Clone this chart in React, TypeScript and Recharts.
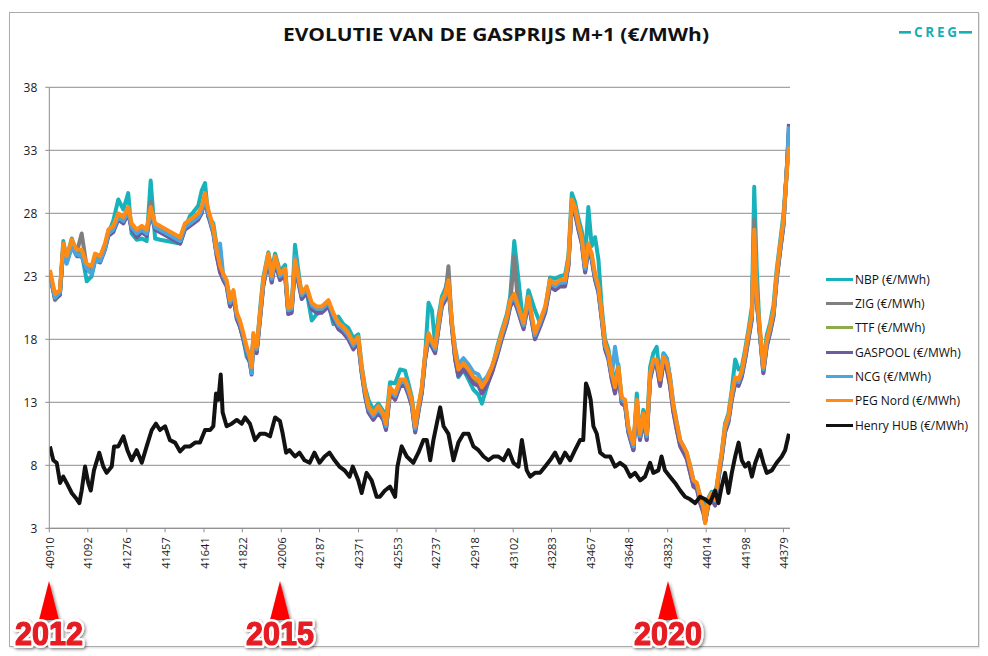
import React from 'react';
import { LineChart, Line, XAxis, YAxis, CartesianGrid } from 'recharts';

// Excel date serials (x)
const euDates = [
  40913, 40937, 40960, 40976, 40992, 41016, 41040, 41063, 41087, 41110,
  41126, 41150, 41173, 41189, 41212, 41236, 41260, 41283, 41299, 41323,
  41347, 41370, 41389, 41410, 41433, 41465, 41496, 41528, 41551, 41575,
  41591, 41614, 41630, 41646, 41661, 41685, 41701, 41717, 41732, 41748,
  41764, 41780, 41796, 41811, 41827, 41843, 41858, 41866, 41874, 41890,
  41906, 41921, 41945, 41961, 41977, 42000, 42024, 42039, 42055, 42071,
  42087, 42103, 42126, 42150, 42174, 42197, 42229, 42252, 42276, 42299,
  42323, 42347, 42370, 42386, 42402, 42418, 42441, 42465, 42488, 42501,
  42520, 42544, 42568, 42591, 42607, 42623, 42639, 42654, 42670, 42686,
  42702, 42718, 42733, 42749, 42765, 42781, 42796, 42812, 42828, 42843,
  42867, 42891, 42914, 42938, 42954, 42977, 43001, 43025, 43048, 43072,
  43088, 43107, 43127, 43151, 43174, 43205, 43229, 43253, 43276, 43300,
  43323, 43347, 43363, 43379, 43394, 43410, 43426, 43442, 43457, 43473,
  43489, 43505, 43520, 43536, 43552, 43568, 43583, 43599, 43615, 43631,
  43646, 43670, 43686, 43701, 43717, 43733, 43749, 43764, 43780, 43796,
  43812, 43828, 43843, 43859, 43875, 43891, 43907, 43922, 43938, 43954,
  43970, 43985, 44001, 44009, 44024, 44040, 44056, 44072, 44087, 44103,
  44119, 44135, 44151, 44167, 44182, 44198, 44214, 44230, 44241, 44253,
  44268, 44284, 44300, 44316, 44332, 44347, 44363, 44379, 44395, 44405,
];

const nbp = [
  23.2, 21.4, 21.6, 25.8, 24.4, 26.0, 24.8, 24.9, 22.6, 23.0,
  24.2, 24.2, 25.4, 26.4, 27.4, 29.1, 28.3, 29.6, 26.4, 25.9,
  26.0, 25.8, 30.6, 26.0, 25.9, 25.8, 25.7, 25.6, 26.8, 27.8,
  28.1, 28.6, 29.8, 30.4, 27.7, 27.2, 25.4, 24.2, 23.0, 22.4,
  21.4, 21.5, 19.8, 19.0, 18.0, 16.6, 16.2, 15.4, 18.2, 17.2,
  20.4, 22.9, 24.9, 23.5, 24.8, 23.4, 23.9, 20.2, 20.4, 25.5,
  23.4, 21.5, 21.8, 19.5, 20.0, 20.2, 20.9, 19.2, 19.8, 19.2,
  18.9, 18.1, 18.4, 15.9, 14.2, 13.2, 12.4, 12.9, 12.3, 11.5,
  14.6, 14.5, 15.6, 15.5, 14.5, 13.4, 11.3, 12.6, 14.0, 16.8,
  20.9, 20.3, 17.6, 19.8, 21.4, 22.0, 23.0, 19.3, 16.4, 15.0,
  15.6, 14.8, 14.0, 13.6, 12.9, 14.2, 15.6, 17.3, 18.7, 20.0,
  21.4, 25.8, 22.7, 19.0, 21.9, 20.3, 19.3, 20.3, 22.9, 22.8,
  23.0, 23.1, 24.6, 29.6, 28.9, 27.6, 26.6, 24.4, 28.5, 25.4,
  26.1, 24.3, 20.6, 18.0, 17.2, 15.6, 14.6, 16.0, 13.0, 12.8,
  10.8, 9.2, 13.7, 10.3, 12.4, 10.8, 15.8, 16.9, 17.4, 15.0,
  16.9, 16.5, 15.0, 12.6, 11.2, 9.8, 9.3, 8.8, 7.8, 6.7,
  6.5, 5.6, 5.0, 4.2, 5.4, 5.9, 5.6, 7.2, 8.9, 11.3,
  12.1, 14.0, 16.4, 15.6, 15.8, 17.2, 18.8, 20.6, 30.1, 23.5,
  18.2, 16.2, 18.3, 19.3, 20.7, 23.5, 25.7, 27.9, 31.5, 33.8,
];

const zig = [
  23.3, 21.3, 21.7, 25.3, 24.3, 25.6, 24.9, 26.4, 23.7, 23.5,
  24.5, 24.3, 25.3, 26.4, 26.8, 27.6, 27.4, 28.1, 26.9, 26.3,
  26.7, 26.4, 28.9, 26.9, 26.7, 26.4, 26.1, 25.9, 26.9, 27.2,
  27.4, 27.7, 28.2, 29.4, 28.0, 26.6, 24.8, 23.6, 22.9, 22.4,
  20.8, 21.6, 19.8, 19.2, 18.2, 17.1, 16.3, 15.6, 18.2, 17.1,
  19.8, 22.4, 24.5, 22.7, 24.3, 22.9, 23.3, 20.2, 20.3, 24.0,
  22.7, 21.4, 21.9, 20.6, 20.3, 20.3, 20.8, 19.8, 19.0, 18.7,
  18.2, 17.4, 17.9, 15.5, 13.7, 12.4, 11.8, 12.4, 11.8, 11.0,
  13.9, 13.4, 14.5, 14.5, 13.8, 12.9, 10.8, 12.4, 13.9, 16.6,
  18.2, 17.6, 17.1, 19.0, 20.8, 21.3, 23.8, 19.2, 16.6, 15.3,
  15.8, 15.3, 14.7, 14.5, 13.9, 14.5, 15.5, 16.8, 18.2, 19.5,
  20.8, 24.6, 20.3, 19.0, 21.1, 18.2, 19.2, 20.3, 22.4, 22.1,
  22.4, 22.4, 24.0, 28.8, 28.2, 26.9, 25.8, 23.5, 25.3, 24.5,
  22.9, 21.9, 19.8, 17.4, 16.6, 15.0, 13.9, 15.5, 13.1, 12.9,
  10.8, 9.4, 12.9, 10.2, 11.8, 10.2, 15.0, 16.1, 16.1, 14.5,
  16.3, 15.8, 14.5, 12.4, 11.0, 9.7, 9.2, 8.7, 7.6, 6.5,
  6.3, 5.2, 4.4, 3.6, 5.0, 5.5, 5.0, 7.1, 8.7, 10.8,
  11.6, 13.4, 14.7, 14.5, 15.2, 16.6, 18.2, 19.8, 27.5, 21.1,
  18.5, 15.5, 17.6, 18.7, 20.0, 22.9, 25.1, 27.2, 31.5, 34.2,
];

const ttf = [
  23.2, 21.1, 21.6, 25.2, 24.2, 25.5, 24.7, 24.7, 23.6, 23.4,
  24.4, 24.2, 25.2, 26.3, 26.6, 27.6, 27.3, 28.1, 26.8, 26.2,
  26.6, 26.3, 28.1, 26.8, 26.6, 26.3, 26.0, 25.7, 26.8, 27.1,
  27.3, 27.6, 28.1, 29.2, 27.9, 26.5, 24.7, 23.4, 22.8, 22.3,
  20.6, 21.5, 19.7, 19.1, 18.1, 17.0, 16.2, 15.4, 18.1, 17.0,
  19.7, 22.3, 24.4, 22.6, 24.2, 22.8, 23.2, 20.1, 20.2, 23.9,
  22.6, 21.3, 21.8, 20.5, 20.2, 20.2, 20.7, 19.7, 18.9, 18.6,
  18.1, 17.3, 17.8, 15.4, 13.6, 12.3, 11.7, 12.3, 11.7, 10.9,
  13.8, 13.3, 14.4, 14.4, 13.7, 12.8, 10.7, 12.3, 13.8, 16.5,
  18.1, 17.5, 17.0, 18.9, 20.7, 21.2, 22.3, 19.1, 16.5, 15.2,
  15.7, 15.2, 14.6, 14.4, 13.8, 14.4, 15.4, 16.7, 18.1, 19.4,
  20.7, 21.2, 20.2, 18.9, 21.0, 18.1, 19.1, 20.2, 22.3, 22.0,
  22.3, 22.3, 23.9, 28.7, 28.1, 26.8, 25.7, 23.4, 25.2, 24.4,
  22.8, 21.8, 19.7, 17.3, 16.5, 14.9, 13.8, 15.4, 13.0, 12.8,
  10.7, 9.3, 12.8, 10.1, 11.7, 10.1, 14.9, 16.0, 16.0, 14.4,
  16.2, 15.7, 14.4, 12.3, 10.9, 9.6, 9.1, 8.6, 7.5, 6.4,
  6.2, 5.1, 4.3, 3.5, 4.9, 5.4, 4.9, 7.0, 8.6, 10.7,
  11.5, 13.3, 14.6, 14.4, 15.1, 16.5, 18.1, 19.7, 26.3, 21.0,
  18.4, 15.4, 17.5, 18.6, 19.9, 22.8, 25.0, 27.1, 31.4, 34.5,
];

const gaspool = [
  23.1, 21.2, 21.5, 25.1, 24.1, 25.4, 24.6, 24.6, 23.5, 23.3,
  24.3, 24.1, 25.1, 26.2, 26.5, 27.5, 27.2, 28.0, 26.7, 26.1,
  26.5, 26.2, 28.0, 26.7, 26.5, 26.2, 25.9, 25.6, 26.7, 27.0,
  27.2, 27.5, 28.0, 29.1, 27.8, 26.4, 24.6, 23.3, 22.7, 22.2,
  20.6, 21.4, 19.6, 19.0, 18.0, 16.9, 16.1, 15.2, 18.0, 16.9,
  19.6, 22.2, 24.3, 22.5, 24.1, 22.7, 23.1, 20.0, 20.1, 23.8,
  22.5, 21.2, 21.7, 20.4, 20.1, 20.1, 20.6, 19.6, 18.8, 18.5,
  18.0, 17.2, 17.7, 15.3, 13.5, 12.2, 11.6, 12.2, 11.6, 10.8,
  13.7, 13.2, 14.3, 14.3, 13.6, 12.7, 10.6, 12.2, 13.7, 16.4,
  18.0, 17.4, 16.9, 18.8, 20.6, 21.1, 22.2, 19.0, 16.4, 15.1,
  15.6, 15.1, 14.5, 14.3, 13.7, 14.3, 15.3, 16.6, 18.0, 19.3,
  20.6, 21.1, 20.1, 18.8, 20.9, 18.0, 19.0, 20.1, 22.2, 21.9,
  22.2, 22.2, 23.8, 28.6, 28.0, 26.7, 25.6, 23.3, 25.1, 24.3,
  22.7, 21.7, 19.6, 17.2, 16.4, 14.8, 13.7, 15.3, 12.9, 12.7,
  10.6, 9.2, 12.7, 10.0, 11.6, 10.0, 14.8, 15.9, 15.9, 14.3,
  16.1, 15.6, 14.3, 12.2, 10.8, 9.5, 9.0, 8.5, 7.4, 6.3,
  6.1, 5.0, 4.2, 3.5, 4.8, 5.3, 4.8, 6.9, 8.5, 10.6,
  11.4, 13.2, 14.5, 14.3, 15.0, 16.4, 18.0, 19.6, 26.2, 20.9,
  18.3, 15.3, 17.4, 18.5, 19.8, 22.7, 24.9, 27.0, 31.6, 35.1,
];

const ncg = [
  23.2, 21.3, 21.7, 25.2, 24.0, 25.3, 24.7, 24.6, 23.6, 23.2,
  24.3, 24.2, 25.2, 26.4, 26.7, 27.7, 27.4, 28.2, 26.9, 26.4,
  26.7, 26.4, 28.2, 26.9, 26.7, 26.4, 26.1, 25.8, 26.9, 27.2,
  27.4, 27.7, 28.2, 29.3, 28.0, 26.6, 24.8, 25.6, 23.0, 22.5,
  20.9, 21.7, 19.9, 19.3, 18.3, 17.1, 16.4, 15.3, 18.3, 17.2,
  19.9, 22.5, 24.6, 22.8, 24.4, 23.0, 23.4, 20.3, 20.4, 24.6,
  22.8, 21.5, 22.0, 20.7, 20.4, 20.4, 20.9, 19.9, 19.1, 18.8,
  18.3, 17.5, 18.0, 15.6, 13.8, 12.5, 11.9, 12.5, 11.9, 11.1,
  14.0, 13.5, 14.6, 14.6, 13.9, 13.0, 10.9, 12.5, 14.0, 16.7,
  18.3, 17.7, 17.2, 19.1, 20.9, 21.4, 22.5, 19.3, 17.3, 16.0,
  16.5, 16.0, 15.4, 15.2, 14.6, 15.0, 15.8, 16.9, 18.3, 19.6,
  20.9, 21.4, 20.4, 19.1, 21.2, 18.3, 19.3, 20.4, 22.5, 22.2,
  22.5, 22.5, 24.1, 28.9, 28.3, 27.0, 25.9, 23.6, 25.4, 24.6,
  23.0, 22.0, 19.9, 17.5, 16.7, 15.1, 17.4, 15.6, 13.2, 13.0,
  10.9, 9.5, 13.0, 10.3, 11.9, 10.3, 15.1, 16.2, 16.2, 14.9,
  16.8, 16.4, 15.0, 12.9, 11.4, 10.0, 9.5, 9.0, 8.0, 6.8,
  6.5, 5.4, 4.6, 3.6, 5.1, 5.6, 5.2, 7.2, 8.8, 10.9,
  11.7, 13.5, 14.8, 14.6, 15.3, 16.7, 18.3, 19.9, 26.5, 21.2,
  18.6, 15.6, 17.7, 18.8, 20.1, 23.0, 25.2, 27.3, 31.5, 34.9,
];

const pegNord = [
  23.5, 21.6, 21.9, 25.6, 24.6, 25.9, 25.1, 25.1, 24.0, 23.8,
  24.8, 24.6, 25.6, 26.7, 27.0, 28.0, 27.7, 28.5, 27.2, 26.7,
  27.0, 26.7, 28.5, 27.2, 27.0, 26.7, 26.4, 26.1, 27.2, 27.5,
  27.7, 28.0, 28.5, 29.6, 28.3, 26.9, 25.1, 23.8, 23.2, 22.7,
  21.1, 21.9, 20.1, 19.5, 18.5, 17.4, 16.6, 15.8, 18.5, 17.4,
  20.1, 22.7, 24.8, 23.0, 24.6, 23.2, 23.6, 20.5, 20.6, 24.3,
  23.0, 21.7, 22.2, 20.9, 20.6, 20.6, 21.1, 20.1, 19.3, 19.0,
  18.5, 17.7, 18.2, 15.8, 14.0, 12.7, 12.1, 12.7, 12.1, 11.3,
  14.2, 13.7, 14.8, 14.8, 14.1, 13.2, 11.1, 12.7, 14.2, 16.9,
  18.5, 17.9, 17.4, 19.3, 21.1, 21.6, 22.7, 19.5, 16.9, 15.6,
  16.1, 15.6, 15.0, 14.8, 14.2, 14.8, 15.8, 17.1, 18.5, 19.8,
  21.1, 21.6, 20.6, 19.3, 21.4, 18.5, 19.5, 20.6, 22.7, 22.4,
  22.7, 22.7, 24.3, 29.1, 28.5, 27.2, 26.1, 23.8, 25.6, 24.8,
  23.2, 22.2, 20.1, 17.7, 16.9, 15.3, 14.2, 15.8, 13.4, 13.2,
  11.1, 9.7, 13.2, 10.5, 12.1, 10.5, 15.3, 16.4, 16.4, 14.8,
  16.6, 16.1, 14.8, 12.7, 11.3, 10.0, 9.5, 9.0, 7.9, 6.8,
  6.6, 5.5, 4.7, 3.4, 5.3, 5.8, 5.3, 7.4, 9.0, 11.1,
  11.9, 13.7, 15.0, 14.8, 15.5, 16.9, 18.5, 20.1, 26.7, 21.4,
  18.8, 15.8, 17.9, 19.0, 20.3, 23.2, 25.4, 27.5, 31.2, 33.3,
];

const hhDates = [
  40913, 40929, 40945, 40961, 40976, 40992, 41016, 41040, 41052, 41063,
  41079, 41094, 41106, 41121, 41146, 41165, 41181, 41205, 41216, 41236,
  41260, 41279, 41299, 41323, 41347, 41370, 41394, 41414, 41433, 41457,
  41480, 41504, 41528, 41551, 41575, 41599, 41622, 41646, 41670, 41685,
  41698, 41709, 41720, 41729, 41748, 41772, 41796, 41819, 41835, 41858,
  41882, 41906, 41930, 41953, 41977, 42000, 42013, 42029, 42045, 42071,
  42092, 42116, 42140, 42163, 42187, 42211, 42234, 42258, 42281, 42305,
  42329, 42344, 42370, 42386, 42409, 42433, 42457, 42472, 42496, 42520,
  42544, 42555, 42575, 42599, 42630, 42654, 42678, 42694, 42710, 42725,
  42741, 42757, 42773, 42796, 42820, 42843, 42867, 42891, 42914, 42938,
  42962, 42985, 43009, 43032, 43056, 43080, 43103, 43127, 43143, 43166,
  43182, 43205, 43229, 43253, 43276, 43300, 43323, 43347, 43371, 43394,
  43418, 43433, 43446, 43457, 43468, 43481, 43497, 43513, 43536, 43560,
  43583, 43607, 43631, 43655, 43678, 43702, 43725, 43749, 43764, 43788,
  43803, 43819, 43843, 43867, 43891, 43914, 43938, 43962, 43985, 44009,
  44032, 44056, 44072, 44087, 44103, 44119, 44135, 44151, 44167, 44182,
  44198, 44214, 44230, 44246, 44268, 44284, 44300, 44324, 44347, 44371,
  44387, 44405,
];

const henryHub = [
  9.5, 8.4, 8.2, 6.6, 7.1, 6.6, 5.8, 5.3, 5.0, 6.0,
  7.9, 6.6, 6.0, 7.6, 9.0, 7.9, 7.4, 7.9, 9.5, 9.5,
  10.3, 9.2, 8.4, 9.2, 8.2, 9.5, 10.8, 11.3, 10.8, 11.1,
  10.0, 9.8, 9.1, 9.5, 9.5, 9.8, 9.8, 10.8, 10.8, 11.1,
  13.7, 13.2, 15.2, 12.2, 11.1, 11.3, 11.6, 11.3, 11.8, 11.3,
  10.0, 10.5, 10.5, 10.3, 11.8, 11.5, 10.5, 9.0, 9.2, 8.7,
  9.0, 8.4, 8.2, 9.0, 8.2, 8.7, 9.0, 8.4, 7.9, 7.6,
  7.1, 7.9, 6.8, 5.8, 7.4, 6.8, 5.5, 5.5, 6.0, 6.3,
  5.5, 7.9, 9.5, 8.7, 8.2, 9.0, 10.0, 10.0, 8.4, 10.0,
  11.3, 12.6, 11.1, 10.5, 8.4, 9.8, 10.5, 10.5, 9.5, 9.2,
  8.7, 8.4, 8.7, 8.7, 8.4, 9.2, 8.2, 7.9, 10.0, 7.6,
  7.1, 7.4, 7.4, 7.9, 8.4, 9.0, 8.2, 9.0, 8.4, 9.2,
  10.0, 10.0, 14.5, 14.0, 13.2, 11.1, 10.5, 9.0, 8.7, 8.7,
  7.9, 8.2, 7.9, 7.1, 7.4, 6.8, 7.1, 8.2, 7.4, 7.6,
  8.7, 7.6, 7.1, 6.6, 6.0, 5.5, 5.3, 5.0, 5.5, 5.3,
  5.0, 6.0, 5.0, 6.3, 7.4, 5.8, 7.4, 8.7, 9.8, 8.4,
  7.9, 8.2, 7.1, 8.2, 9.2, 8.2, 7.4, 7.6, 8.2, 8.7,
  9.2, 10.5,
];

const xTicks = [
  40910, 41092, 41276, 41457, 41641, 41822, 42006, 42187, 42371, 42553,
  42737, 42918, 43102, 43283, 43467, 43648, 43832, 44014, 44198, 44379,
];
const yTicks = [3, 8, 13, 18, 23, 28, 33, 38];

const yearMarks = [
  { label: '2012', x: 41 },
  { label: '2015', x: 272 },
  { label: '2020', x: 660 },
];

const series = [
  { name: 'NBP (€/MWh)', color: '#17b2bc', dates: euDates, values: nbp },
  { name: 'ZIG (€/MWh)', color: '#7f7f7f', dates: euDates, values: zig },
  { name: 'TTF (€/MWh)', color: '#8daa4c', dates: euDates, values: ttf },
  { name: 'GASPOOL (€/MWh)', color: '#705a9c', dates: euDates, values: gaspool },
  { name: 'NCG (€/MWh)', color: '#4aa6df', dates: euDates, values: ncg },
  { name: 'PEG Nord (€/MWh)', color: '#ff8a14', dates: euDates, values: pegNord },
  { name: 'Henry HUB (€/MWh)', color: '#121212', dates: hhDates, values: henryHub },
];

const font = "'Open Sans', 'DejaVu Sans', sans-serif";

const XTick = (props: any) => {
  const { x, y, payload } = props;
  return (
    <text
      transform={`translate(${x},${y + 5}) rotate(-90)`}
      textAnchor="end"
      dominantBaseline="central"
      fontSize={11}
      fontFamily={font}
      fill="#1a1a1a"
    >
      {payload.value}
    </text>
  );
};

const YTick = (props: any) => {
  const { x, y, payload } = props;
  return (
    <text x={x} y={y} dy="0.36em" textAnchor="end" fontSize={12} fontFamily={font} fill="#1a1a1a">
      {payload.value}
    </text>
  );
};

export default function App() {
  return (
    <div style={{ position: 'relative', width: 980, height: 648, background: '#fff', fontFamily: font }}>
      <div
        style={{
          position: 'absolute', left: 1, top: 4, width: 968, height: 633,
          border: '1px solid #ababab', boxShadow: '1px 1px 2px rgba(0,0,0,0.15)',
        }}
      />

      <svg width={980} height={60} style={{ position: 'absolute', left: 0, top: 0 }}>
        <text
          x={488} y={33} textAnchor="middle" fontSize={17} fontWeight={700}
          fontFamily={font} fill="#111" textLength={426} lengthAdjust="spacingAndGlyphs"
        >
          EVOLUTIE VAN DE GASPRIJS M+1 (€/MWh)
        </text>
        <rect x={891} y={23} width={12} height={2.6} fill="#17aeb6" />
        <text
          x={906} y={29} fontSize={13.5} fontWeight={700} fill="#17aeb6" fontFamily={font}
          textLength={43} lengthAdjust="spacing"
        >
          CREG
        </text>
        <rect x={951} y={23} width={13} height={2.6} fill="#17aeb6" />
      </svg>

      <div style={{ position: 'absolute', left: 0, top: 0 }}>
        <LineChart width={800} height={640} margin={{ top: 79.3, right: 18, bottom: 59.7, left: 0 }}>
          <CartesianGrid vertical={false} stroke="#8e8e8e" strokeWidth={1} />
          <XAxis
            type="number" dataKey="d" domain={[40910, 44410]} ticks={xTicks} interval={0}
            allowDataOverflow height={60} tickSize={4} tickMargin={0}
            stroke="#8e8e8e" tick={<XTick />}
          />
          <YAxis
            type="number" domain={[3, 38]} ticks={yTicks} interval={0} width={41.3}
            tickSize={4} tickMargin={8} stroke="#8e8e8e" tick={<YTick />}
          />
          {series.map((s) => (
            <Line
              key={s.name}
              data={s.dates.map((d, i) => ({ d, v: s.values[i] }))}
              dataKey="v"
              name={s.name}
              type="linear"
              stroke={s.color}
              strokeWidth={4}
              strokeLinejoin="round"
              dot={false}
              activeDot={false}
              isAnimationActive={false}
            />
          ))}
        </LineChart>
      </div>

      <div style={{ position: 'absolute', left: 818, top: 259 }}>
        {series.map((s) => (
          <div key={s.name} style={{ display: 'flex', alignItems: 'center', height: 24.33 }}>
            <div style={{ width: 27, height: 3, background: s.color, marginRight: 2 }} />
            <span style={{ fontSize: 12, color: '#111', whiteSpace: 'nowrap' }}>{s.name}</span>
          </div>
        ))}
      </div>

      <svg width={980} height={648} style={{ position: 'absolute', left: 0, top: 0, pointerEvents: 'none' }}>
        <defs>
          <filter id="shadow" x="-20%" y="-20%" width="140%" height="140%">
            <feDropShadow dx={1.5} dy={1.5} stdDeviation={1.5} floodColor="#000" floodOpacity={0.45} />
          </filter>
        </defs>
        {yearMarks.map((m) => (
          <g key={m.label} filter="url(#shadow)">
            <polygon points={`${m.x},${573} ${m.x - 10},${612} ${m.x + 10},${612}`} fill="#f00" />
            <text
              x={m.x} y={637} textAnchor="middle" fontSize={33} fontWeight={700}
              fontFamily="'Liberation Sans', Arial, sans-serif" fill="#fff"
              stroke="#fff" strokeWidth={6} strokeLinejoin="round"
              textLength={68} lengthAdjust="spacingAndGlyphs"
            >
              {m.label}
            </text>
            <text
              x={m.x} y={637} textAnchor="middle" fontSize={33} fontWeight={700}
              fontFamily="'Liberation Sans', Arial, sans-serif" fill="#e51b24"
              stroke="#e51b24" strokeWidth={1.2} strokeLinejoin="round"
              textLength={68} lengthAdjust="spacingAndGlyphs"
            >
              {m.label}
            </text>
          </g>
        ))}
      </svg>
    </div>
  );
}
